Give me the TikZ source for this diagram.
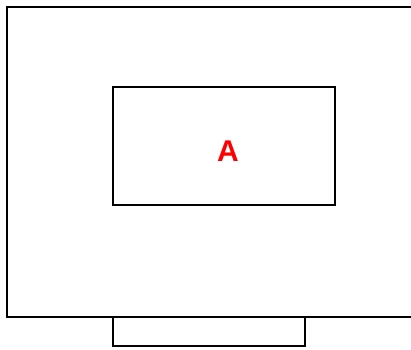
\documentclass[tikz,border=0pt]{standalone}
\usepackage{fontspec}
\setsansfont{Liberation Sans}
\usetikzlibrary{positioning}
\tikzset{
  frame/.style={draw=black,line width=2.4pt,inner sep=0pt,outer sep=0pt},
  lbl/.style={font=\sffamily\bfseries\fontsize{30}{30}\selectfont,text=red},
}
\begin{document}
\begin{tikzpicture}[x=1pt,y=-1pt]
  \useasboundingbox (0,0) rectangle (411,349);
  % outer housing, right side runs off the page
  \node[frame,anchor=north west,minimum width=410pt,minimum height=310pt]
    at (7,7) (outer) {};
  % window with label
  \node[frame,anchor=north west,minimum width=222pt,minimum height=118pt]
    at (113,87) (window) {};
  \node[lbl] at ([xshift=4pt,yshift=-5pt]window.center) (A) {A};
  % base below the housing
  \node[frame,anchor=north west,minimum width=192pt,minimum height=29pt]
    at (outer.south west -| window.west) (base) {};
\end{tikzpicture}
\end{document}
